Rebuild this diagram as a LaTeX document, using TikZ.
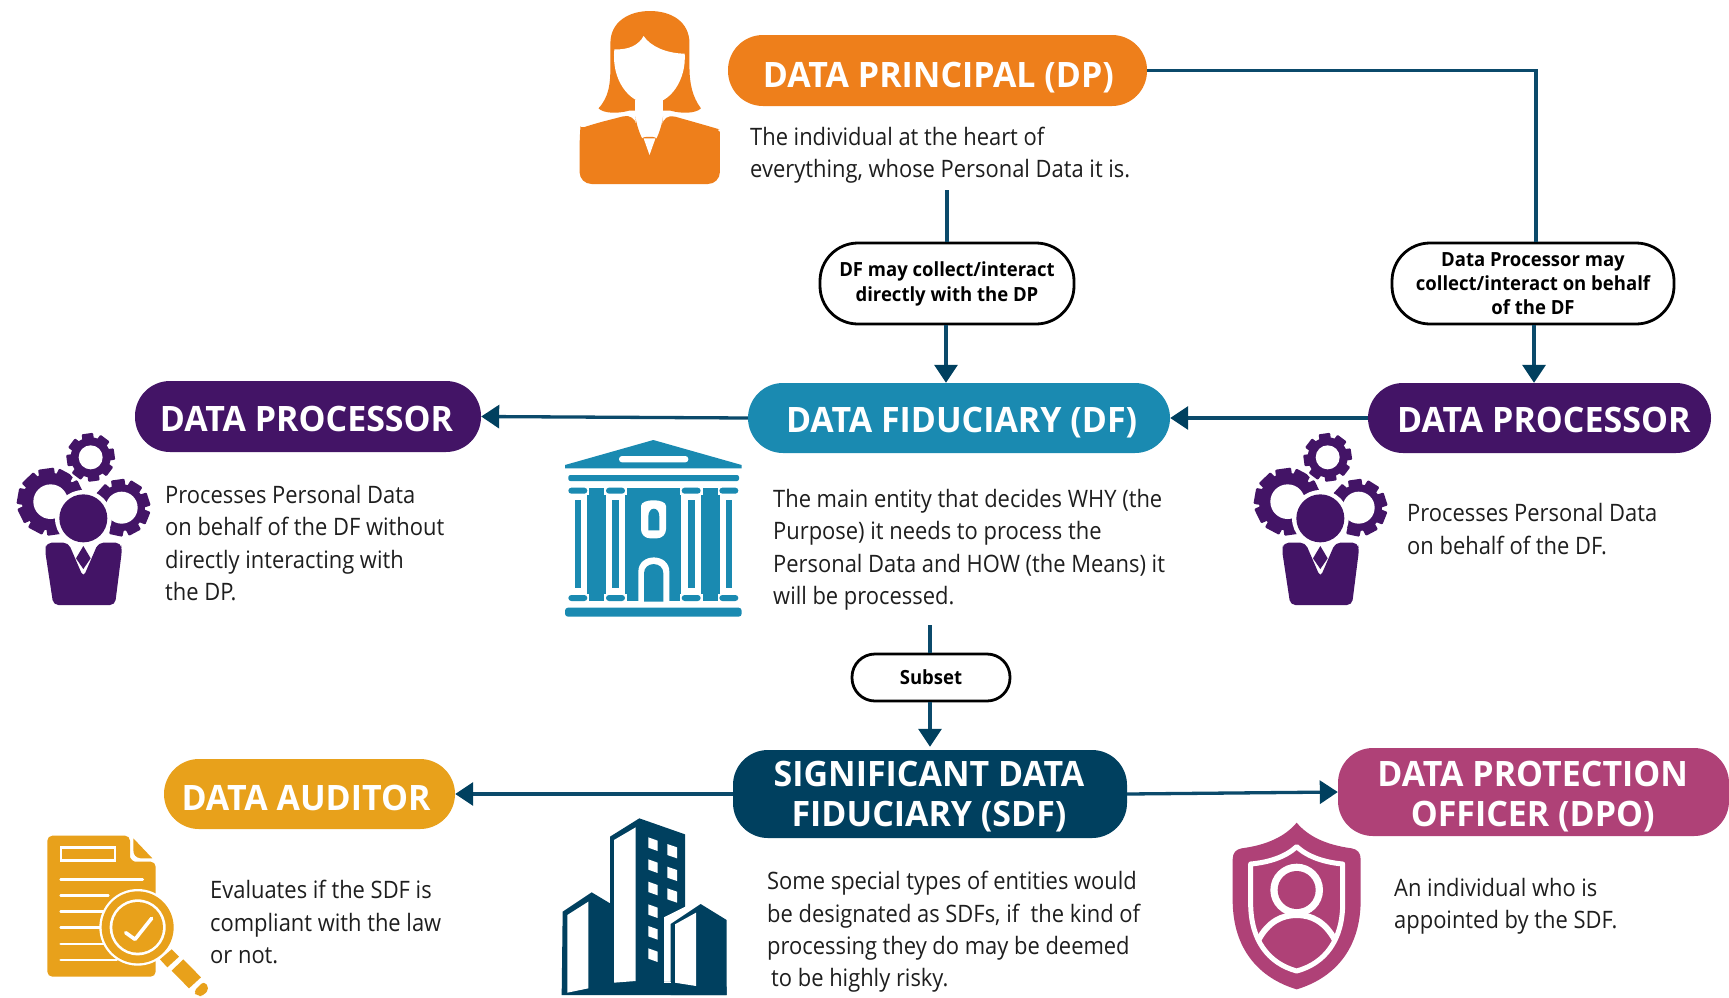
\documentclass[tikz,border=0pt]{standalone}
\usepackage{fontspec}
\setmainfont{Open Sans}[FakeStretch=0.913]
\newfontfamily\headfont{Open Sans}[FakeStretch=0.97]
\newfontfamily\tagfont{Open Sans}[FakeStretch=0.95]
\usetikzlibrary{arrows.meta}
\definecolor{cOrange}{HTML}{EE7F1B}
\definecolor{cPurple}{HTML}{431466}
\definecolor{cTeal}{HTML}{1A8AB1}
\definecolor{cNavy}{HTML}{00405F}
\definecolor{cGold}{HTML}{E8A11B}
\definecolor{cMag}{HTML}{AF4177}
\definecolor{cLine}{HTML}{0B4A6B}
\definecolor{cText}{HTML}{1E1E1E}
\tikzset{
 pill/.style={rectangle,rounded corners=35pt,inner sep=0pt},
 pilltext/.style={inner sep=0pt,text=white,align=center,
   font=\headfont\fontsize{35}{40}\selectfont\bfseries},
 tag/.style={rectangle,rounded corners=38pt,draw=black,line width=2.8pt,fill=white,inner sep=0pt,align=center,
   font=\tagfont\fontsize{19.5}{25}\selectfont\bfseries},
 body/.style={anchor=west,inner sep=0pt,align=left,text=cText,font=\fontsize{24}{32.3}\selectfont},
 link/.style={draw=cLine,line width=3.3pt},
 arrowlink/.style={link,-{Triangle[length=18pt,width=23pt,color=cNavy]}},
}
\newcommand{\gearicon}[6]{%
 \foreach \k in {1,...,#6}{%
  \fill[rounded corners=1pt,rotate around={\k*360/#6+8:(#1,#2)}] ({#1-0.24*#4},{#2-#4}) rectangle ({#1+0.24*#4},{#2});}%
 \fill (#1,#2) circle (#3);
 \fill[white] (#1,#2) circle (#5);
}
\newcommand{\procicon}{%
 \begin{scope}[cPurple]
 \gearicon{152}{395}{86}{100}{52}{10}
 \gearicon{365}{413}{70}{85}{48}{9}
 \fill[white] (250,445) circle (85);
 \fill[white] (272,262) circle (80);
 \gearicon{272}{262}{60}{72}{36}{8}
 \fill (250,445) circle (72);
 \fill[rounded corners=5pt] (135,540) -- (140,518) -- (205,518) -- (250,622) -- (295,518) -- (362,518) -- (366,540) -- (345,705) -- (160,705) -- cycle;
 \fill (250,528) -- (272,565) -- (250,597) -- (228,565) -- cycle;
 \end{scope}}
\begin{document}
\begin{tikzpicture}[x=1pt,y=-1pt]
\useasboundingbox (0,0) rectangle (1729,997);
\fill[white] (0,0) rectangle (1729,997);

% ---- pills
\node[pill,fill=cOrange,minimum width=419pt,minimum height=71pt] (dp) at (937.5,70.5) {};
\node[pill,fill=cTeal,minimum width=422pt,minimum height=70pt] (df) at (959,418) {};
\node[pill,fill=cPurple,minimum width=346pt,minimum height=71pt] (procL) at (308,416.5) {};
\node[pill,fill=cPurple,minimum width=343pt,minimum height=70pt] (procR) at (1539.5,418) {};
\node[pill,fill=cNavy,minimum width=394pt,minimum height=88pt] (sdf) at (930,794) {};
\node[pill,fill=cGold,minimum width=291pt,minimum height=70pt] (aud) at (309.5,794) {};
\node[pill,fill=cMag,minimum width=391pt,minimum height=88pt] (dpo) at (1533.5,792) {};

% ---- pill titles
\node[pilltext,anchor=base] (dpT) at (938.4,87) {DATA PRINCIPAL (DP)};
\node[pilltext,anchor=base] (dfT) at (961.6,432) {DATA FIDUCIARY (DF)};
\node[pilltext,anchor=base] (procLT) at (306.5,431) {DATA PROCESSOR};
\node[pilltext,anchor=base] (procRT) at (1543.8,432) {DATA PROCESSOR};
\node[pilltext,anchor=base] (audT) at (306,810.5) {DATA AUDITOR};
\node[pilltext] (sdfT) at (929,796.2) {SIGNIFICANT DATA\\FIDUCIARY (SDF)};
\node[pilltext] (dpoT) at (1532.7,796.4) {DATA PROTECTION\\OFFICER (DPO)};

% ---- tags
\node[tag,minimum width=254pt,minimum height=81pt] (tagA) at (947,283.5) {DF may collect/interact\\directly with the DP};
\node[tag,font=\tagfont\fontsize{19.5}{23.7}\selectfont\bfseries,minimum width=282pt,minimum height=81pt] (tagB) at (1533,283.5) {Data Processor may\\collect/interact on behalf\\of the DF};
\node[tag,rounded corners=23pt,minimum width=158pt,minimum height=47pt] (tagC) at (931,677.5) {Subset};

% ---- free ends of connectors
\coordinate (fromDP) at (tagA.north |- 0,190);
\coordinate (fromDF) at ([xshift=-1pt]tagC.north |- 0,625);

% ---- connectors
\draw[link] (dp.east) -| ([xshift=3pt]tagB.north);
\draw[link] (fromDP) -- (tagA.north);
\draw[arrowlink] ([xshift=-1pt]tagA.south) -- ([xshift=-1pt]tagA.south |- df.north);
\draw[arrowlink] ([xshift=1pt]tagB.south) -- ([xshift=1pt]tagB.south |- procR.north);
\draw[arrowlink] (procR.west) -- (df.east);
\draw[arrowlink] (df.west) -- (procL.east);
\draw[link] (fromDF) -- ([xshift=-1pt]tagC.north);
\draw[arrowlink,shorten >=3pt] ([xshift=-1pt]tagC.south) -- ([xshift=-1pt]tagC.south |- sdf.north);
\draw[arrowlink] (sdf.west) -- (aud.east);
\draw[arrowlink] (sdf.east) -- (dpo.west);

% ---- descriptions
\node[body] (tDP) at (750,155.2) {The individual at the heart of\\everything, whose Personal Data it is.};
\node[body] (tPL) at (165,543) {Processes Personal Data\\on behalf of the DF without\\directly interacting with\\the DP.};
\node[body] (tPR) at (1407,529) {Processes Personal Data\\on behalf of the DF.};
\node[body] (tDF) at (773,549.7) {The main entity that decides WHY (the\\Purpose) it needs to process the\\Personal Data and HOW (the Means) it\\will be processed.};
\node[body] (tAU) at (210,922) {Evaluates if the SDF is\\compliant with the law\\or not.};
\node[body] (tSD) at (767,932) {Some special types of entities would\\be designated as SDFs, if\ \ the kind of\\processing they do may be deemed\\\hspace*{4pt}to be highly risky.};
\node[body] (tDO) at (1394,906) {An individual who is\\appointed by the SDF.};

% ---- person icon
\begin{scope}[shift={(540,0)},xscale=0.3954,yscale=1/3,cOrange]
 \fill (148,325) .. controls (175,290) and (178,250) .. (178,200) -- (178,130) .. controls (178,65) and (225,33) .. (278,33) .. controls (332,33) and (378,65) .. (378,130) -- (378,200) .. controls (378,250) and (385,290) .. (407,325) .. controls (395,340) and (360,342) .. (330,332) -- (225,332) .. controls (195,342) and (160,340) .. (148,325) -- cycle;
 \fill[white] (240,300) rectangle (312,350);
 \fill[rounded corners=12pt] (100,552) -- (100,415) .. controls (102,385) and (120,378) .. (135,372) -- (240,340) -- (245,385) .. controls (255,408) and (298,408) .. (308,385) -- (312,340) -- (425,378) .. controls (445,385) and (455,400) .. (455,430) -- (455,552) -- cycle;
 \fill[white] (262,415) -- (292,415) -- (277,465) -- cycle;
 \fill[white] (188,148) .. controls (225,150) and (250,135) .. (262,108) .. controls (280,140) and (320,160) .. (366,161) .. controls (370,240) and (330,310) .. (278,312) .. controls (225,310) and (180,240) .. (188,148) -- cycle;
\end{scope}

% ---- processor icons
\begin{scope}[shift={(0,370)},scale=1/3]
 \procicon
\end{scope}
\begin{scope}[shift={(1237,370)},scale=1/3]
 \procicon
\end{scope}

% ---- bank icon
\begin{scope}[shift={(540,420)},scale=1/3,cTeal]
 \fill (75,145) -- (75,135) -- (340,60) -- (605,135) -- (605,145) -- cycle;
 \fill[white,rounded corners=3pt] (237,108) rectangle (445,127);
 \fill[rounded corners=2pt] (85,165) rectangle (597,183);
 \fill (141,203) rectangle (197,543);
 \fill (256,203) rectangle (424,543);
 \fill (483,203) rectangle (539,543);
 \foreach \cx in {113.5,226.5,453.5,566.5}{
  \fill[white] (\cx-34,197) rectangle (\cx+34,225);
  \fill[white] (\cx-34,521) rectangle (\cx+34,549);
  \fill[white] (\cx-20,203) rectangle (\cx+20,543);
  \fill[rounded corners=3pt] (\cx-28.5,203) rectangle (\cx+28.5,221);
  \fill[rounded corners=3pt] (\cx-28.5,525) rectangle (\cx+28.5,543);
  \fill (\cx-10,240) rectangle (\cx+10,505);
 }
 \fill[white,rounded corners=9pt] (303,355) -- (303,285) .. controls (303,235) and (378,235) .. (378,285) -- (378,355) -- cycle;
 \fill (325,331) -- (325,290) .. controls (325,258) and (358,258) .. (358,290) -- (358,331) -- cycle;
 \fill[white] (295,545) -- (295,455) .. controls (295,398) and (388,398) .. (388,455) -- (388,545) -- cycle;
 \fill (312,545) -- (312,460) .. controls (312,423) and (370,423) .. (370,460) -- (370,545) -- cycle;
 \fill[rounded corners=3pt] (75,563) rectangle (605,590);
\end{scope}

% ---- document icon
\begin{scope}[shift={(20,820)},scale=1/3,cGold]
 \fill[rounded corners=5pt] (82,47) -- (330,47) -- (330,95) .. controls (330,115) and (340,125) .. (360,125) -- (407,125) -- (407,470) -- (82,470) -- cycle;
 \fill (340,55) -- (397,115) -- (362,115) .. controls (348,113) and (340,105) .. (340,90) -- cycle;
 \draw[white,line width=2.7pt] (123,83) rectangle (285,122);
 \foreach \yy/\xx in {178/368,227/265,275/255,323/250,372/255,420/290}
   \draw[white,line width=2.7pt,line cap=round] (122,\yy) -- (\xx,\yy);
 \fill[white] (353,322) circle (115);
 \fill (353,322) circle (108);
 \fill[white] (353,322) circle (84);
 \fill (353,322) circle (76);
 \draw[white,line width=3.6pt,line cap=round,line join=round] (317,338) -- (345,358) -- (395,295);
 \fill (420,418) -- (455,388) -- (477,410) -- (442,442) -- cycle;
 \fill (455,452) -- (490,418) -- (543,472) -- (507,505) -- cycle;
 \fill[rounded corners=4pt] (520,515) -- (552,483) -- (568,505) -- (550,528) -- (532,528) -- cycle;
\end{scope}

% ---- building icon
\begin{scope}[shift={(540,800)},scale=1/3,cNavy]
 \fill (65,585) -- (68,335) -- (155,277) -- (210,310) -- (210,110) -- (298,55) -- (435,103) -- (435,325) -- (372,352) -- (372,545) -- (400,545) -- (560,560) -- (560,585) -- cycle;
 \fill[white] (372,352) -- (440,318) -- (440,345) -- (392,372) -- (392,545) -- (372,545) -- cycle;
 \fill (392,372) -- (482,312) -- (560,360) -- (560,585) -- (392,585) -- cycle;
 \fill[white] (82,345) -- (145,305) -- (145,565) -- (82,578) -- cycle;
 \fill[white] (222,120) -- (287,82) -- (287,543) -- (222,548) -- cycle;
 \fill[white] (405,373) -- (468,338) -- (468,558) -- (405,548) -- cycle;
 \fill[white] (372,545) rectangle (392,548);
 \foreach \yy in {112,178,245,313,378,445}
  \fill[white] (325,\yy) -- (353,\yy+10) -- (353,\yy+41) -- (325,\yy+31) -- cycle;
 \foreach \yy in {132,200,265}
  \fill[white] (382,\yy) -- (411,\yy+10) -- (411,\yy+43) -- (382,\yy+33) -- cycle;
\end{scope}

% ---- shield icon
\begin{scope}[shift={(1210,800)},scale=1/3,cMag]
 \fill (260,68) .. controls (225,110) and (170,135) .. (95,145) .. controls (78,148) and (68,158) .. (68,178) -- (68,300) .. controls (68,450) and (150,535) .. (260,568) .. controls (370,535) and (452,450) .. (452,300) -- (452,178) .. controls (452,158) and (442,148) .. (425,145) .. controls (350,135) and (295,110) .. (260,68) -- cycle;
 \begin{scope}
  \clip (260,135) .. controls (225,170) and (175,185) .. (122,190) -- (122,310) .. controls (122,420) and (175,490) .. (260,515) .. controls (345,490) and (398,420) .. (398,310) -- (398,190) .. controls (345,185) and (295,170) .. (260,135) -- cycle;
  \draw[white,line width=6pt] (145,420) .. controls (175,365) and (215,345) .. (260,345) .. controls (305,345) and (345,365) .. (375,420);
 \end{scope}
 \draw[white,line width=5pt,line join=round] (260,140) .. controls (225,172) and (175,187) .. (122,192) -- (122,310) .. controls (122,420) and (175,490) .. (260,513) .. controls (345,490) and (398,420) .. (398,310) -- (398,192) .. controls (345,187) and (295,172) .. (260,140) -- cycle;
 \fill[white] (260,270) circle (79);
 \fill (260,270) circle (57);
\end{scope}
\end{tikzpicture}
\end{document}
